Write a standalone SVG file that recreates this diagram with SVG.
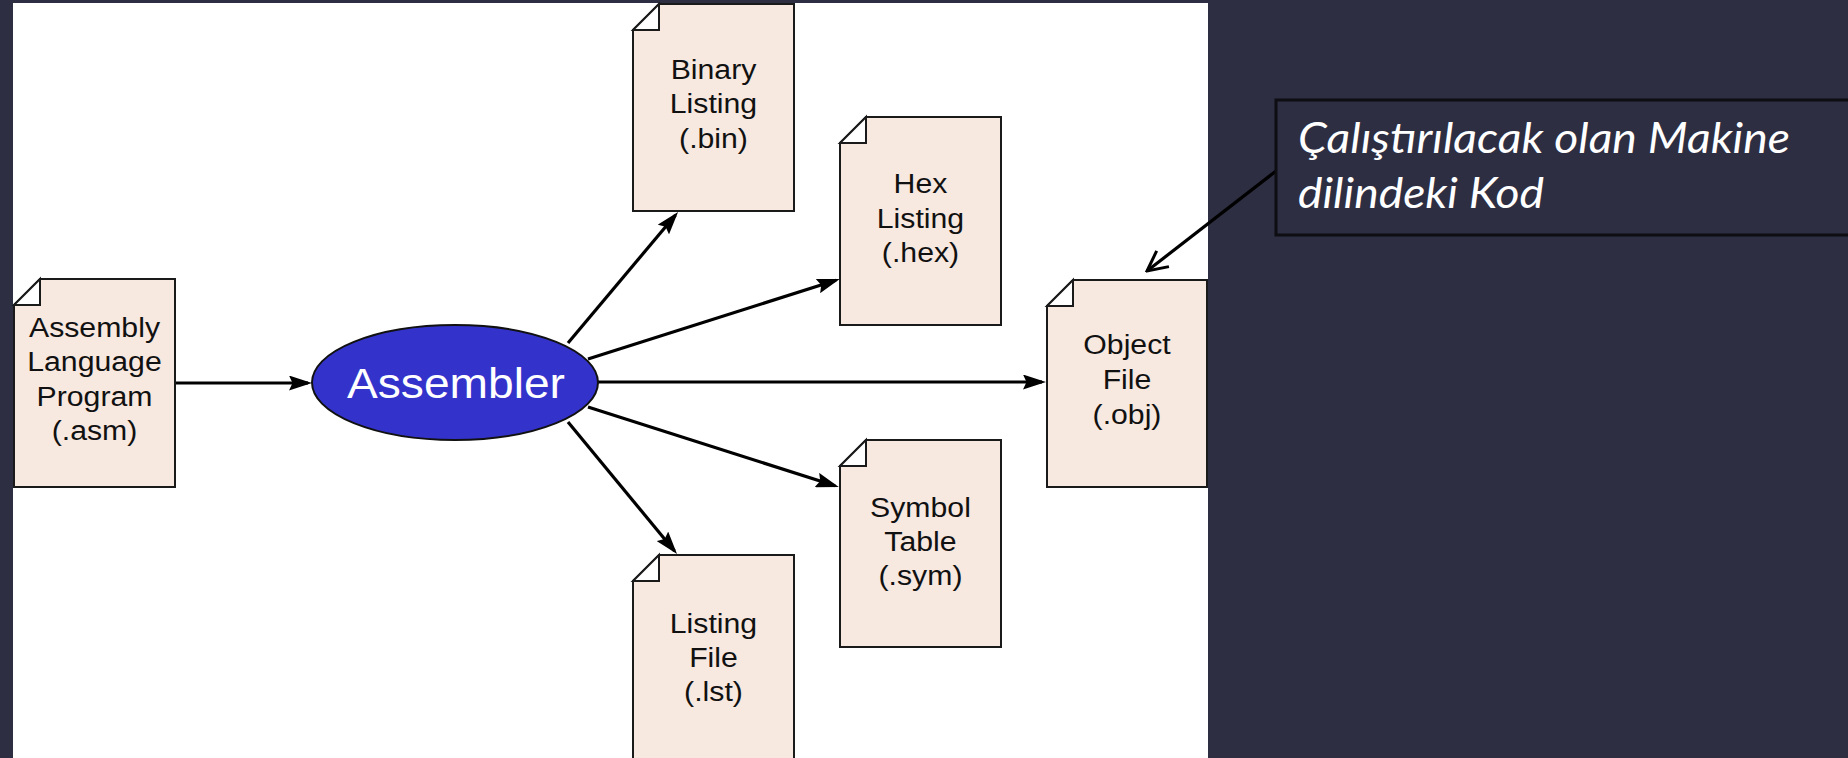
<svg xmlns="http://www.w3.org/2000/svg" width="1848" height="758" viewBox="0 0 1848 758">
<style>
.doc{fill:#f7e8e0;stroke:#1a1a1a;stroke-width:2}
.fold{fill:#ffffff;stroke:#1a1a1a;stroke-width:2;stroke-linejoin:miter}
.dt{font-family:"Liberation Sans",Arial,sans-serif;font-size:27px;fill:#111;text-anchor:middle}
.conn{stroke:#000;stroke-width:3.2;fill:none}
.callt{font-family:Lato,"Open Sans",sans-serif;font-style:italic;font-size:42px;fill:#ffffff}
</style>
<defs>
<marker id="ah" viewBox="0 0 23 15" refX="19" refY="7.5" markerWidth="23" markerHeight="15" markerUnits="userSpaceOnUse" orient="auto">
<path d="M0,0 L23,7.5 L0,15 L3.5,7.5 Z" fill="#000"/>
</marker>
<marker id="oh" viewBox="0 0 24 24" refX="22" refY="12" markerWidth="24" markerHeight="24" markerUnits="userSpaceOnUse" orient="auto">
<path d="M2,2 L22,12 L2,22" fill="none" stroke="#000" stroke-width="3"/>
</marker>
</defs>
<rect x="0" y="0" width="1848" height="758" fill="#2d2e42"/>
<rect x="13" y="3" width="1195" height="760" fill="#ffffff"/>

<g id="connectors">
<line class="conn" x1="175" y1="383" x2="308" y2="383" marker-end="url(#ah)"/>
<line class="conn" x1="598" y1="382" x2="1042" y2="382" marker-end="url(#ah)"/>
<line class="conn" x1="568" y1="343" x2="675.5" y2="215" marker-end="url(#ah)"/>
<line class="conn" x1="588" y1="359" x2="836" y2="280.3" marker-end="url(#ah)"/>
<line class="conn" x1="588" y1="407" x2="835" y2="485.8" marker-end="url(#ah)"/>
<line class="conn" x1="568" y1="422" x2="674.5" y2="551" marker-end="url(#ah)"/>
<line class="conn" x1="1276" y1="171" x2="1147" y2="271" marker-end="url(#oh)"/>
</g>

<g id="asm">
<path class="doc" d="M40,279 H175 V487 H14 V305 Z"/>
<path class="fold" d="M14,305 H40 V279 Z"/>
<g transform="translate(94.5,0) scale(1.12,1)">
<text class="dt" x="0" y="337">Assembly</text>
<text class="dt" x="0" y="371">Language</text>
<text class="dt" x="0" y="406">Program</text>
<text class="dt" x="0" y="440">(.asm)</text>
</g>
</g>

<g id="assembler">
<ellipse cx="455" cy="382.5" rx="143" ry="57.5" fill="#3333cc" stroke="#111" stroke-width="2"/>
<text x="456" y="398" font-family="Liberation Sans, Arial, sans-serif" font-size="43" fill="#ffffff" text-anchor="middle" textLength="218" lengthAdjust="spacingAndGlyphs">Assembler</text>
</g>

<g id="binary">
<path class="doc" d="M659,4 H794 V211 H633 V30 Z"/>
<path class="fold" d="M633,30 H659 V4 Z"/>
<g transform="translate(713.5,0) scale(1.12,1)">
<text class="dt" x="0" y="79">Binary</text>
<text class="dt" x="0" y="113">Listing</text>
<text class="dt" x="0" y="148">(.bin)</text>
</g>
</g>

<g id="hex">
<path class="doc" d="M866,117 H1001 V325 H840 V143 Z"/>
<path class="fold" d="M840,143 H866 V117 Z"/>
<g transform="translate(920.5,0) scale(1.12,1)">
<text class="dt" x="0" y="193">Hex</text>
<text class="dt" x="0" y="228">Listing</text>
<text class="dt" x="0" y="262">(.hex)</text>
</g>
</g>

<g id="object">
<path class="doc" d="M1073,280 H1207 V487 H1047 V306 Z"/>
<path class="fold" d="M1047,306 H1073 V280 Z"/>
<g transform="translate(1127,0) scale(1.12,1)">
<text class="dt" x="0" y="354">Object</text>
<text class="dt" x="0" y="389">File</text>
<text class="dt" x="0" y="424">(.obj)</text>
</g>
</g>

<g id="symbol">
<path class="doc" d="M866,440 H1001 V647 H840 V466 Z"/>
<path class="fold" d="M840,466 H866 V440 Z"/>
<g transform="translate(920.5,0) scale(1.12,1)">
<text class="dt" x="0" y="517">Symbol</text>
<text class="dt" x="0" y="551">Table</text>
<text class="dt" x="0" y="585">(.sym)</text>
</g>
</g>

<g id="listing">
<path class="doc" d="M659,555 H794 V770 H633 V581 Z"/>
<path class="fold" d="M633,581 H659 V555 Z"/>
<g transform="translate(713.5,0) scale(1.12,1)">
<text class="dt" x="0" y="633">Listing</text>
<text class="dt" x="0" y="667">File</text>
<text class="dt" x="0" y="701">(.lst)</text>
</g>
</g>

<g id="callout">
<rect x="1276" y="100" width="590" height="135" fill="#2d2e42" stroke="#0d0d12" stroke-width="3"/>
<text class="callt" x="1298" y="153" textLength="492" lengthAdjust="spacingAndGlyphs">Çalıştırılacak olan Makine</text>
<text class="callt" x="1298" y="208" textLength="246" lengthAdjust="spacingAndGlyphs">dilindeki Kod</text>
</g>
</svg>
